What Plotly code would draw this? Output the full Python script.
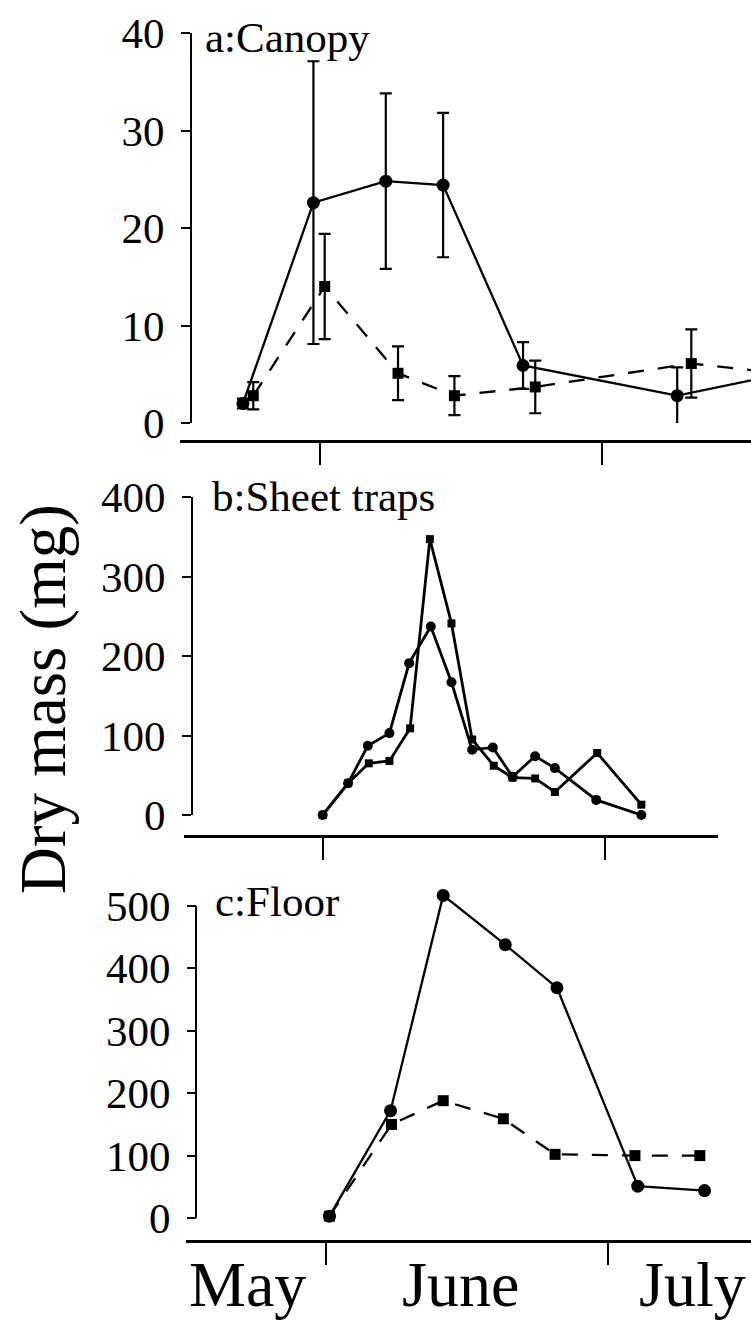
import plotly.graph_objects as go

W, H = 751, 1322
FONT = "Liberation Serif, Times New Roman, serif"

# Day numbers counted from 1 May (= day 1): 1 June = day 32, 1 July = day 62
month_names = ["May", "June", "July"]
month_ticks = [32, 62]

# ---- Panel a: Canopy (mean +/- error) ----
canopy_circle_day = [23.8, 31.3, 39.0, 45.1, 53.6, 70.0, 80.0]
canopy_circle_mass = [2.0, 22.6, 24.8, 24.4, 5.9, 2.8, 4.8]
canopy_circle_err = [0.5, 14.5, 9.0, 7.4, 2.4, 2.9, 0.0]
canopy_square_day = [24.9, 32.5, 40.3, 46.3, 54.9, 71.5, 80.0]
canopy_square_mass = [2.8, 14.0, 5.1, 2.8, 3.7, 6.1, 5.2]
canopy_square_err = [1.4, 5.4, 2.75, 2.0, 2.7, 3.5, 0.0]
canopy_ticks = [0, 10, 20, 30, 40]

# ---- Panel b: Sheet traps ----
sheet_circle_day = [32.0, 34.7, 36.8, 39.1, 41.2, 43.5, 45.7, 47.9, 50.1, 52.2, 54.6, 56.7, 61.1, 65.9]
sheet_circle_mass = [0, 40, 87, 103, 191, 237, 167, 82, 85, 48, 74, 59, 19, 0]
sheet_square_day = [32.0, 34.7, 36.9, 39.1, 41.3, 43.4, 45.7, 47.9, 50.2, 52.2, 54.6, 56.7, 61.2, 65.9]
sheet_square_mass = [0, 40, 65, 68, 109, 347, 241, 95, 62, 47, 46, 29, 78, 13]
sheet_ticks = [0, 100, 200, 300, 400]

# ---- Panel c: Floor ----
floor_circle_day = [32.4, 38.9, 44.5, 51.1, 56.6, 65.2, 72.3]
floor_circle_mass = [3, 172, 517, 438, 369, 51, 44]
floor_square_day = [32.4, 39.0, 44.5, 50.9, 56.4, 64.9, 71.8]
floor_square_mass = [3, 150, 188, 159, 102, 100, 100]
floor_ticks = [0, 100, 200, 300, 400, 500]

panel_labels = ["a:Canopy", "b:Sheet traps", "c:Floor"]
y_title = "Dry mass (mg)"

PPD = 9.4  # pixels per day


def xaxis_cfg(left_px, right_px, june_px, line_y_px):
    r0 = month_ticks[0] - (june_px - left_px) / PPD
    r1 = month_ticks[0] + (right_px - june_px) / PPD
    return dict(domain=[left_px / W, right_px / W], range=[r0, r1],
                anchor="free", position=1 - line_y_px / H, automargin=False,
                tickvals=month_ticks, showticklabels=False,
                ticks="outside", ticklen=22, tickwidth=2, tickcolor="black",
                showline=True, linecolor="black", linewidth=2.5,
                showgrid=False, zeroline=False, fixedrange=True)


def yaxis_cfg(zero_px, top_px, x_px, ticks, top_val=None, showline=True):
    top_val = ticks[-1] if top_val is None else top_val
    ppu = (zero_px - top_px) / ticks[-1]
    dom_top_px = zero_px - top_val * ppu
    return dict(domain=[1 - zero_px / H, 1 - dom_top_px / H], range=[ticks[0], top_val],
                anchor="free", position=x_px / W, automargin=False,
                tickvals=ticks, ticks="outside", ticklen=9, tickwidth=2,
                tickcolor="black", showline=showline, linecolor="black", linewidth=2,
                showgrid=False, zeroline=False, fixedrange=True,
                tickfont=dict(family=FONT, size=43, color="black"),
                ticklabelstandoff=8)


fig = go.Figure()

def err(arr):
    return dict(type="data", array=arr, visible=True, color="black", thickness=2.2, width=6)

# Panel a
fig.add_trace(go.Scatter(x=canopy_circle_day, y=canopy_circle_mass, error_y=err(canopy_circle_err),
                         mode="lines+markers", line=dict(color="black", width=2.3),
                         marker=dict(symbol="circle", size=13, color="black"),
                         xaxis="x", yaxis="y", cliponaxis=True))
fig.add_trace(go.Scatter(x=canopy_square_day, y=canopy_square_mass, error_y=err(canopy_square_err),
                         mode="lines+markers", line=dict(color="black", width=2.3, dash="16px,14px"),
                         marker=dict(symbol="square", size=11, color="black"),
                         xaxis="x", yaxis="y", cliponaxis=True))
# Panel b
fig.add_trace(go.Scatter(x=sheet_circle_day, y=sheet_circle_mass,
                         mode="lines+markers", line=dict(color="black", width=2.8),
                         marker=dict(symbol="circle", size=10, color="black"),
                         xaxis="x2", yaxis="y2", cliponaxis=False))
fig.add_trace(go.Scatter(x=sheet_square_day, y=sheet_square_mass,
                         mode="lines+markers", line=dict(color="black", width=2.8),
                         marker=dict(symbol="square", size=8, color="black"),
                         xaxis="x2", yaxis="y2", cliponaxis=False))
# Panel c
fig.add_trace(go.Scatter(x=floor_circle_day, y=floor_circle_mass,
                         mode="lines+markers", line=dict(color="black", width=2.3),
                         marker=dict(symbol="circle", size=13, color="black"),
                         xaxis="x3", yaxis="y3", cliponaxis=False))
fig.add_trace(go.Scatter(x=floor_square_day, y=floor_square_mass,
                         mode="lines+markers", line=dict(color="black", width=2.3, dash="16px,14px"),
                         marker=dict(symbol="square", size=11, color="black"),
                         xaxis="x3", yaxis="y3", cliponaxis=False))

annotations = []
label_pos = [(203, 38), (210, 496), (213, 901)]
for text, (px, py) in zip(panel_labels, label_pos):
    annotations.append(dict(text=text, xref="paper", yref="paper", x=px / W, y=1 - py / H,
                            xanchor="left", yanchor="middle", showarrow=False,
                            font=dict(family=FONT, size=43, color="black")))

month_pos = [(247, "center"), (460, "center"), (748, "right")]
for name, (px, anchor) in zip(month_names, month_pos):
    annotations.append(dict(text=name, xref="paper", yref="paper", x=px / W, y=1 - 1284 / H,
                            xanchor=anchor, yanchor="middle", showarrow=False,
                            font=dict(family=FONT, size=64, color="black")))

annotations.append(dict(text=y_title, xref="paper", yref="paper", x=43 / W, y=1 - 699 / H,
                        xanchor="center", yanchor="middle", textangle=-90, showarrow=False,
                        font=dict(family=FONT, size=65, color="black")))

# panel c: data rise above the top tick, so the axis range is taller than the drawn axis line
C_AXIS_X = 196
fig.update_layout(
    width=W, height=H, margin=dict(l=0, r=0, t=0, b=0, pad=0, autoexpand=False),
    paper_bgcolor="white", plot_bgcolor="white", showlegend=False,
    font=dict(family=FONT, color="black"),
    xaxis=xaxis_cfg(180, 751, 320, 441),
    yaxis=yaxis_cfg(423, 33, 191, canopy_ticks),
    xaxis2=xaxis_cfg(184, 718, 322.7, 836),
    yaxis2=yaxis_cfg(815, 497, 192, sheet_ticks),
    xaxis3=xaxis_cfg(186, 751, 325.7, 1241),
    yaxis3=yaxis_cfg(1218, 906, C_AXIS_X, floor_ticks, top_val=540, showline=False),
    annotations=annotations,
    shapes=[dict(type="line", xref="paper", yref="y3", x0=C_AXIS_X / W, x1=C_AXIS_X / W,
                 y0=floor_ticks[0], y1=floor_ticks[-1], line=dict(color="black", width=2))],
)

fig.write_html("out.html", config={"displayModeBar": False},
               post_script="document.body.style.margin='0px';")
